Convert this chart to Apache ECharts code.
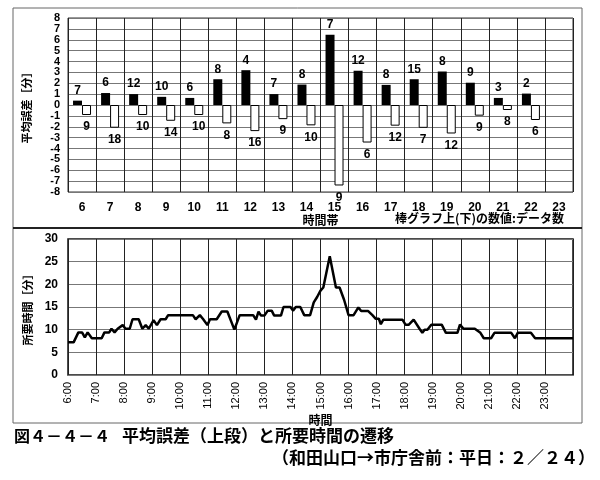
<!DOCTYPE html>
<html>
<head>
<meta charset="utf-8">
<script src="https://cdn.jsdelivr.net/npm/echarts@6/dist/echarts.min.js"></script>
<style>
  html, body { margin: 0; padding: 0; background: #fff; }
  #chart { width: 600px; height: 480px; }
</style>
</head>
<body>
<div id="chart"></div>
<script>
// 時間帯 (upper chart)
var hours = ['6', '7', '8', '9', '10', '11', '12', '13', '14', '15', '16', '17', '18', '19', '20', '21', '22', '23'];
// mean error, late side (black) and early side (white), minutes
var errorLate = [0.4, 1.1, 1.0, 0.75, 0.65, 2.37, 3.2, 1.0, 1.88, 6.46, 3.15, 1.85, 2.37, 3.08, 2.05, 0.65, 1.05, null];
var errorEarly = [-0.92, -2.09, -0.92, -1.45, -0.92, -1.69, -2.4, -1.3, -1.87, -7.4, -3.45, -1.9, -2.1, -2.62, -0.98, -0.46, -1.38, null];
// number of data behind each bar
var countLate = [7, 6, 12, 10, 6, 8, 4, 7, 8, 7, 12, 8, 15, 8, 9, 3, 2, null];
var countEarly = [9, 18, 10, 14, 10, 8, 16, 9, 10, 9, 6, 12, 7, 12, 9, 8, 6, null];

// 所要時間 (lower chart): time of day in hours, travel time in minutes
var timeHours = [6.00, 6.20, 6.37, 6.50, 6.60, 6.70, 6.85, 7.20, 7.30, 7.47, 7.55, 7.66, 7.77, 7.95,
  8.05, 8.20, 8.30, 8.52, 8.65, 8.77, 8.88, 9.05, 9.17, 9.30, 9.48, 9.57, 10.45, 10.55, 10.70, 10.82,
  10.97, 11.06, 11.30, 11.48, 11.68, 11.93, 12.12, 12.60, 12.70, 12.79, 12.88, 13.00, 13.12, 13.26,
  13.35, 13.59, 13.68, 13.93, 14.02, 14.12, 14.28, 14.42, 14.63, 14.76, 14.88, 15.00, 15.10, 15.33,
  15.55, 15.68, 15.84, 16.00, 16.18, 16.35, 16.45, 16.70, 16.85, 16.97, 17.08, 17.15, 17.24, 17.92,
  18.03, 18.15, 18.32, 18.53, 18.63, 18.71, 18.81, 18.95, 19.32, 19.47, 19.88, 19.97, 20.10, 20.50,
  20.70, 20.82, 21.08, 21.20, 21.80, 21.93, 22.03, 22.50, 22.65, 24.00];
var travelMin = [7.2, 7.2, 9.4, 9.4, 8.3, 9.4, 8.1, 8.1, 9.4, 9.4, 10.2, 9.4, 10.2, 11.0,
  10.2, 10.2, 12.3, 12.3, 10.2, 11.0, 10.2, 12.1, 11.0, 12.3, 12.3, 13.2, 13.2, 12.3, 13.2, 12.3,
  11.0, 12.3, 12.3, 14.0, 14.0, 10.0, 13.2, 13.2, 12.2, 14.0, 13.1, 13.1, 14.2, 14.2,
  13.1, 13.1, 15.0, 15.0, 14.2, 15.0, 15.0, 13.2, 13.2, 16.0, 17.2, 18.6, 19.3, 26.2,
  19.3, 19.3, 16.6, 13.2, 13.2, 14.9, 14.1, 14.1, 13.2, 12.4, 12.4, 11.2, 12.2, 12.2,
  11.1, 11.1, 12.2, 10.2, 9.3, 10.0, 10.0, 11.1, 11.1, 9.3, 9.3, 11.1, 10.2, 10.2,
  9.3, 8.1, 8.1, 9.3, 9.3, 8.1, 9.3, 9.3, 8.1, 8.1];

var numFont = 'Liberation Sans';
var jpFont = 'Noto Sans CJK JP';

var chart = echarts.init(document.getElementById('chart'));

var option = {
  backgroundColor: '#fff',
  animation: false,
  grid: [
    { left: 68, right: 27, top: 18, height: 174, show: true, borderColor: '#333', borderWidth: 1 },
    { left: 68, right: 27, top: 239, height: 136, show: true, borderColor: '#111', borderWidth: 1.5 }
  ],
  xAxis: [
    {
      type: 'category', gridIndex: 0, data: hours,
      axisLine: { show: false }, axisTick: { show: false },
      axisLabel: { color: '#000', fontFamily: numFont, fontSize: 12, fontWeight: 'bold', margin: 10 },
      splitLine: { show: true, lineStyle: { color: '#222', width: 1 } },
      name: '時間帯', nameLocation: 'middle', nameGap: 22,
      nameTextStyle: { color: '#000', fontFamily: jpFont, fontSize: 12, fontWeight: 'bold' }
    },
    {
      type: 'value', gridIndex: 1, min: 6, max: 24, interval: 1,
      axisLine: { show: false }, axisTick: { show: false },
      axisLabel: {
        color: '#000', fontFamily: numFont, fontSize: 11, rotate: 90, margin: 7,
        formatter: function (v) { return v === 24 ? '' : v + ':00'; }
      },
      splitLine: { show: true, lineStyle: { color: '#222', width: 1 } },
      name: '時間', nameLocation: 'middle', nameGap: 39,
      nameTextStyle: { color: '#000', fontFamily: jpFont, fontSize: 12, fontWeight: 'bold' }
    }
  ],
  yAxis: [
    {
      type: 'value', gridIndex: 0, min: -8, max: 8, interval: 1,
      axisLine: { show: false }, axisTick: { show: false },
      axisLabel: {
        color: '#000', fontFamily: numFont, fontSize: 11, fontWeight: 'bold', margin: 8,
        showMinLabel: true, showMaxLabel: true
      },
      splitLine: { show: true, lineStyle: { color: '#777', width: 1 } },
      name: '平均誤差［分］', nameLocation: 'middle', nameRotate: 90, nameGap: 36,
      nameTextStyle: { color: '#000', fontFamily: jpFont, fontSize: 11, fontWeight: 'bold' }
    },
    {
      type: 'value', gridIndex: 1, min: 0, max: 30, interval: 5,
      axisLine: { show: false }, axisTick: { show: false },
      axisLabel: { color: '#000', fontFamily: numFont, fontSize: 12, fontWeight: 'bold', margin: 10 },
      splitLine: { show: true, lineStyle: { color: '#777', width: 1 } },
      name: '所要時間［分］', nameLocation: 'middle', nameRotate: 90, nameGap: 34,
      nameTextStyle: { color: '#000', fontFamily: jpFont, fontSize: 11, fontWeight: 'bold' }
    }
  ],
  series: [
    {
      type: 'bar', xAxisIndex: 0, yAxisIndex: 0, data: errorLate,
      barWidth: 9, barGap: '0%',
      itemStyle: { color: '#000' },
      label: {
        show: true, position: 'top', distance: 4, color: '#000',
        fontFamily: numFont, fontSize: 12, fontWeight: 'bold',
        formatter: function (p) { return countLate[p.dataIndex]; }
      }
    },
    {
      type: 'bar', xAxisIndex: 0, yAxisIndex: 0, data: errorEarly,
      barWidth: 9, barGap: '0%',
      itemStyle: { color: '#fff', borderColor: '#000', borderWidth: 1 },
      label: {
        show: true, position: 'bottom', distance: 6, color: '#000',
        fontFamily: numFont, fontSize: 12, fontWeight: 'bold',
        formatter: function (p) { return countEarly[p.dataIndex]; }
      }
    },
    {
      type: 'line', xAxisIndex: 1, yAxisIndex: 1,
      data: timeHours.map(function (t, i) { return [t, travelMin[i]]; }),
      showSymbol: false,
      lineStyle: { color: '#000', width: 2.5 }
    }
  ],
  graphic: [
    { type: 'rect', shape: { x: 13, y: 8, width: 569, height: 220 }, style: { fill: null, stroke: '#666', lineWidth: 1 }, silent: true },
    { type: 'rect', shape: { x: 13, y: 228, width: 569, height: 195 }, style: { fill: null, stroke: '#666', lineWidth: 1 }, silent: true },
    { type: 'line', shape: { x1: 13, y1: 228, x2: 582, y2: 228 }, style: { stroke: '#000', lineWidth: 1.5 }, silent: true },
    {
      type: 'text', left: 395, top: 212,
      style: { text: '棒グラフ上(下)の数値:データ数', fill: '#000', font: 'bold 12px "Noto Sans CJK JP"' }
    },
    {
      type: 'text', left: 14, top: 428,
      style: { text: '図４－４－４', fill: '#000', font: 'bold 16px "Noto Sans CJK JP"' }
    },
    {
      type: 'text', left: 122, top: 427,
      style: { text: '平均誤差（上段）と所要時間の遷移', fill: '#000', font: 'bold 17px "Noto Sans CJK JP"' }
    },
    {
      type: 'text', right: 5, top: 449,
      style: { text: '（和田山口→市庁舎前：平日：２／２４）', fill: '#000', font: 'bold 17px "Noto Sans CJK JP"' }
    }
  ]
};

option && chart.setOption(option);
</script>
</body>
</html>
